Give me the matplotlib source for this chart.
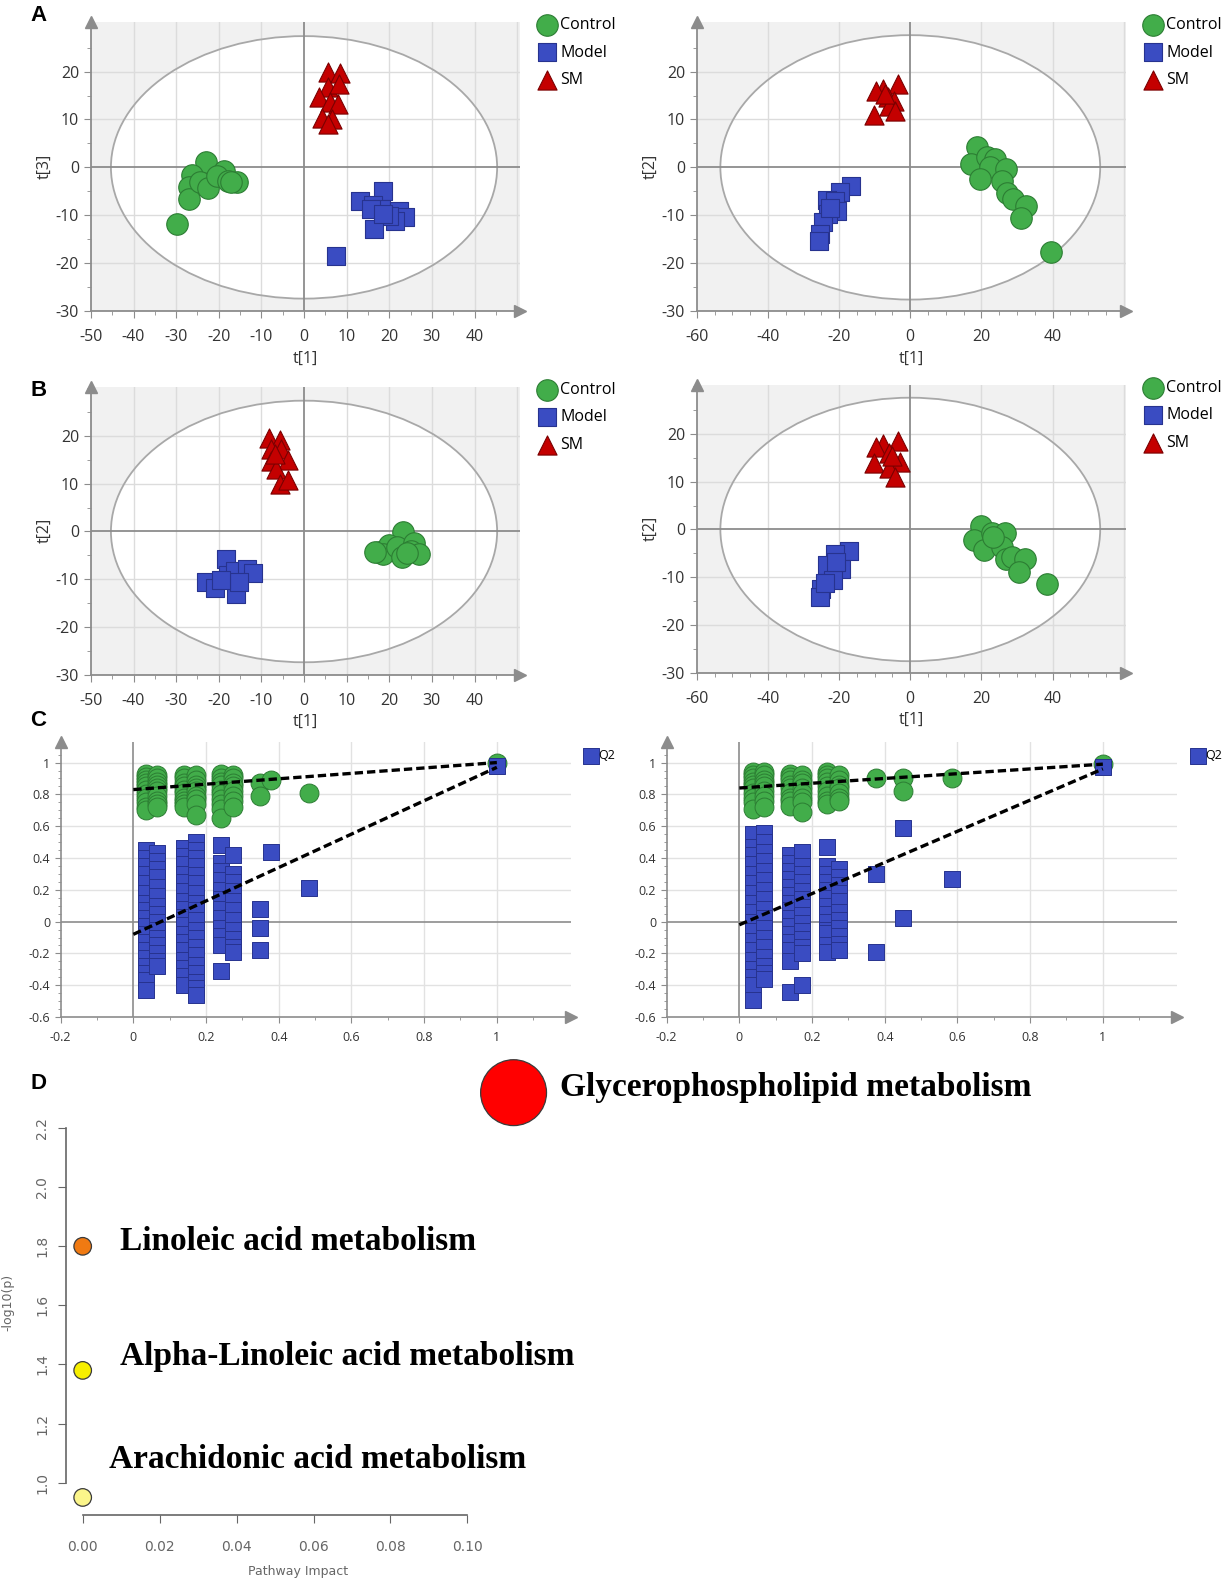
import matplotlib
matplotlib.use("Agg")
import matplotlib.pyplot as plt
from matplotlib.patches import Ellipse
from matplotlib.ticker import MultipleLocator, FuncFormatter

plt.rcParams["axes.unicode_minus"] = False

W, H = 1223, 1582
S = 1.01  # layout was measured on a slightly shrunken view of the picture

# ---- score plots (t[1], second component) ----
a1_control = [(-23, 1.2), (-26.2, -1.6), (-26.9, -4.2), (-27, -6.7), (-24.3, -3.1), (-22.5, -4.4),
              (-18.7, -0.7), (-20.4, -1.7), (-17.8, -2.8), (-15.7, -3.0), (-17.1, -3.0), (-29.7, -11.8)]
a1_model = [(18.5, -5), (13.1, -7), (16.2, -7.8), (18.1, -8.7), (15.7, -8.7), (22.2, -9.2),
            (23.6, -10.4), (21.3, -11.1), (19.9, -10.1), (16.4, -12.9), (7.6, -18.4), (18.5, -9.7)]
a1_sm = [(5.7, 20), (8.5, 19.8), (5.6, 16.8), (8.1, 17.4), (3.5, 14.6), (6, 13.6),
         (7.9, 13.2), (4.2, 10.4), (6.5, 10.1), (5.6, 9.0)]

a2_control = [(18.9, 4.2), (17.2, 0.6), (21.5, 2.1), (23.8, 1.7), (22.4, 0), (26.8, -0.3), (19.7, -2.4),
              (25.7, -2.8), (27.1, -5.4), (28.9, -6.6), (32.6, -8), (31.2, -10.6), (39.6, -17.7)]
a2_model = [(-16.8, -3.8), (-19.9, -5.2), (-23.4, -6.8), (-21.2, -7), (-20.6, -9.2), (-23.2, -9.7),
            (-24.5, -11.5), (-25.4, -13.9), (-25.6, -15.3), (-22.7, -8.5)]
a2_sm = [(-3.5, 17.3), (-7.6, 16.4), (-9.6, 15.9), (-6.3, 14.6), (-4.7, 13.9), (-6.1, 12.9),
         (-4.3, 11.7), (-10.2, 11.0), (-7.2, 15.3)]

b1_control = [(23.3, -0.2), (17.6, -4.2), (19.9, -2.9), (18.5, -4.7), (21.8, -3.2), (22.9, -5.3),
              (25.9, -2.5), (25.2, -4.1), (26.9, -4.8), (16.7, -4.4), (24.1, -4.6)]
b1_model = [(-18.3, -5.8), (-23, -10.5), (-20.8, -11.9), (-15.9, -13), (-17.8, -9.1), (-16.2, -8.3),
            (-13.4, -7.9), (-12, -8.8), (-15.3, -10.5), (-19.4, -10.2)]
b1_sm = [(-8.3, 19.6), (-5.6, 19.1), (-7.8, 17.2), (-5.3, 17.2), (-3.7, 14.9), (-7.8, 14.7),
         (-6.5, 13), (-5.6, 10), (-3.7, 10.7), (-6.9, 16.3)]

b2_control = [(20, 0.8), (18, -2.2), (22.9, -0.8), (26.6, -0.8), (20.8, -4.3), (25.7, -3.6),
              (26.9, -6.1), (28.5, -5.7), (32.2, -6.1), (30.7, -8.9), (38.5, -11.5), (23.3, -1.5)]
b2_model = [(-17.1, -4.5), (-21.2, -5.2), (-19.6, -8.2), (-23.4, -7.5), (-21.8, -10.6), (-25.1, -12.4),
            (-25.3, -14.1), (-20.9, -6.8), (-24, -11.3)]
b2_sm = [(-3.5, 18.6), (-7.6, 17.8), (-9.6, 17.2), (-6.1, 16), (-3, 14.2), (-10.2, 14),
         (-6.1, 12.9), (-4.3, 11), (-5.2, 15.3)]

group_names = ["Control", "Model", "SM"]

# ---- permutation tests: columns of R2 / Q2 values ----
cl_x = [0.036, 0.066, 0.139, 0.172, 0.242, 0.275, 0.349, 0.378, 0.482, 1.0]
cl_r2 = [[0.93, 0.91, 0.89, 0.87, 0.85, 0.83, 0.80, 0.78, 0.75, 0.72, 0.70],
         [0.92, 0.90, 0.88, 0.86, 0.84, 0.82, 0.79, 0.76, 0.74, 0.72],
         [0.92, 0.90, 0.87, 0.85, 0.83, 0.81, 0.78, 0.76, 0.74, 0.72],
         [0.92, 0.89, 0.86, 0.84, 0.82, 0.79, 0.77, 0.74, 0.67],
         [0.93, 0.90, 0.88, 0.86, 0.83, 0.80, 0.77, 0.74, 0.71, 0.65],
         [0.92, 0.90, 0.87, 0.85, 0.82, 0.79, 0.76, 0.72],
         [0.87, 0.79], [0.89], [0.81], [1.0]]
cl_q2 = [[0.45, 0.40, 0.35, 0.30, 0.24, 0.18, 0.12, 0.07, 0.02, -0.03, -0.08, -0.13, -0.18, -0.23, -0.28, -0.32, -0.37, -0.43],
         [0.43, 0.38, 0.33, 0.28, 0.22, 0.16, 0.10, 0.05, 0.00, -0.05, -0.10, -0.15, -0.20, -0.25, -0.28],
         [0.46, 0.41, 0.36, 0.30, 0.25, 0.19, 0.13, 0.08, 0.03, -0.02, -0.08, -0.13, -0.18, -0.24, -0.29, -0.34, -0.40],
         [0.50, 0.45, 0.40, 0.35, 0.29, 0.24, 0.18, 0.12, 0.07, 0.01, -0.05, -0.10, -0.16, -0.21, -0.27, -0.32, -0.38, -0.42, -0.46],
         [0.48, 0.37, 0.32, 0.26, 0.20, 0.14, 0.08, 0.02, -0.04, -0.09, -0.15, -0.31],
         [0.42, 0.30, 0.25, 0.19, 0.13, 0.07, 0.01, -0.05, -0.11, -0.16, -0.19],
         [0.08, -0.04, -0.18], [0.44], [0.21], [0.98]]
cl_r2_line = [0.83, 1.0]
cl_q2_line = [-0.08, 0.97]

cr_x = [0.038, 0.068, 0.139, 0.172, 0.241, 0.273, 0.375, 0.451, 0.584, 1.0]
cr_r2 = [[0.94, 0.92, 0.90, 0.88, 0.86, 0.84, 0.81, 0.78, 0.75, 0.71],
         [0.94, 0.92, 0.89, 0.87, 0.85, 0.82, 0.79, 0.76, 0.72],
         [0.93, 0.91, 0.89, 0.86, 0.84, 0.81, 0.78, 0.76, 0.73],
         [0.92, 0.89, 0.87, 0.84, 0.81, 0.78, 0.75, 0.69],
         [0.94, 0.92, 0.90, 0.88, 0.85, 0.82, 0.79, 0.76, 0.74],
         [0.92, 0.89, 0.86, 0.84, 0.81, 0.78, 0.76],
         [0.90], [0.90, 0.82], [0.90], [0.99]]
cr_q2 = [[0.55, 0.47, 0.42, 0.36, 0.30, 0.24, 0.18, 0.12, 0.06, 0.00, -0.06, -0.12, -0.18, -0.24, -0.30, -0.35, -0.40, -0.49],
         [0.56, 0.50, 0.44, 0.38, 0.32, 0.26, 0.20, 0.14, 0.08, 0.02, -0.04, -0.10, -0.16, -0.22, -0.28, -0.32, -0.36],
         [0.42, 0.37, 0.32, 0.27, 0.22, 0.17, 0.12, 0.07, 0.02, -0.03, -0.08, -0.13, -0.18, -0.25, -0.44],
         [0.44, 0.35, 0.30, 0.25, 0.19, 0.14, 0.09, 0.04, -0.01, -0.06, -0.11, -0.16, -0.20, -0.40],
         [0.47, 0.35, 0.30, 0.25, 0.20, 0.15, 0.10, 0.05, 0.00, -0.05, -0.07, -0.15, -0.19],
         [0.33, 0.28, 0.23, 0.18, 0.13, 0.06, 0.01, -0.04, -0.09, -0.14, -0.18],
         [0.30, -0.19], [0.59, 0.02], [0.27], [0.97]]
cr_r2_line = [0.84, 0.99]
cr_q2_line = [-0.02, 0.96]

# ---- pathway analysis ----
pathways = ["Glycerophospholipid metabolism", "Linoleic acid metabolism",
            "Alpha-Linoleic acid metabolism", "Arachidonic acid metabolism"]
impact = [0.112, 0.0, 0.0, 0.0]
logp = [2.32, 1.80, 1.38, 0.95]
path_colors = ["#ff0000", "#f07a12", "#f7ef00", "#fbf58a"]

GREEN, GREEN_E = "#42ad4a", "#2c7d33"
BLUE, BLUE_E = "#3a4cc2", "#27338f"
RED, RED_E = "#c40000", "#7a0000"
AX = "#8c8c8c"
UI_FONT = "Open Sans"


def add_px(fig, l, t, r, b):
    l, t, r, b = l * S, t * S, min(r * S, W), b * S
    return fig.add_axes([l / W, 1 - b / H, (r - l) / W, (b - t) / H])


def fig_xy(px, py):
    return px * S / W, 1 - py * S / H


def arrows(ax):
    ax.plot(0, 1, "^", ms=9, color=AX, transform=ax.transAxes, clip_on=False, zorder=6)
    ax.plot(1, 0, ">", ms=9, color=AX, transform=ax.transAxes, clip_on=False, zorder=6)


def score_plot(fig, box, groups, xlim, xmajor, rx, ry, ylab, legend_at):
    ax = add_px(fig, *box)
    ax.set_facecolor("#f1f1f1")
    ax.set_xlim(xlim)
    ax.set_ylim(-30, 30.3)
    ax.add_patch(Ellipse((0, 0), 2 * rx, 2 * ry, facecolor="white", edgecolor="none", zorder=0.5))
    x = xlim[0] + xmajor
    while x < xlim[1]:
        if abs(x) > 1e-9:
            ax.axvline(x, color="#dcdcdc", lw=1, zorder=1)
        x += xmajor
    for y in (-20, -10, 10, 20):
        ax.axhline(y, color="#dcdcdc", lw=1, zorder=1)
    ax.add_patch(Ellipse((0, 0), 2 * rx, 2 * ry, fill=False, edgecolor="#a8a8a8", lw=1.3, zorder=1.5))
    ax.axhline(0, color=AX, lw=1.3, zorder=1.6)
    ax.axvline(0, color=AX, lw=1.3, zorder=1.6)

    styles = [("o", GREEN, GREEN_E, 240), ("s", BLUE, BLUE_E, 175), ("^", RED, RED_E, 190)]
    handles = []
    for pts, (m, fc, ec, s) in zip(groups, styles):
        xs, ys = zip(*pts)
        handles.append(ax.scatter(xs, ys, marker=m, s=s, facecolor=fc, edgecolor=ec, lw=0.8, zorder=3))

    ax.set_xticks(range(int(xlim[0]), 41, xmajor))
    ax.set_yticks(range(-30, 21, 10))
    ax.xaxis.set_minor_locator(MultipleLocator(5))
    ax.yaxis.set_minor_locator(MultipleLocator(5))
    ax.tick_params(which="both", direction="out", color=AX, labelcolor="#333333", labelsize=11.5)
    ax.tick_params(which="major", length=5)
    ax.tick_params(which="minor", length=3)
    ax.tick_params(axis="x", pad=8)
    for lab in ax.get_xticklabels() + ax.get_yticklabels():
        lab.set_family(UI_FONT)
    for side in ("top", "right"):
        ax.spines[side].set_visible(False)
    for side in ("left", "bottom"):
        ax.spines[side].set_color(AX)
        ax.spines[side].set_linewidth(1.3)
    arrows(ax)
    ax.set_xlabel("t[1]", family=UI_FONT, fontsize=11.5, color="#333333", labelpad=4)
    ax.set_ylabel(ylab, family=UI_FONT, fontsize=11.5, color="#333333", labelpad=2)
    ax.legend(handles, group_names, loc="upper left", bbox_to_anchor=fig_xy(*legend_at),
              bbox_transform=fig.transFigure, frameon=False, handlelength=1.0, handletextpad=0.3,
              labelspacing=0.72, borderpad=0, borderaxespad=0, prop={"family": UI_FONT, "size": 11.5})
    return ax


def perm_plot(fig, box, xs, r2, q2, r2_line, q2_line, legend_at):
    ax = add_px(fig, *box)
    ax.set_xlim(-0.2, 1.203)
    ax.set_ylim(-0.6, 1.127)
    for gx in (0.2, 0.4, 0.6, 0.8, 1.0):
        ax.axvline(gx, color="#e2e2e2", lw=1, zorder=1)
    for gy in (-0.4, -0.2, 0.2, 0.4, 0.6, 0.8, 1.0):
        ax.axhline(gy, color="#e2e2e2", lw=1, zorder=1)
    ax.axhline(0, color=AX, lw=1.2, zorder=1.5)
    ax.axvline(0, color=AX, lw=1.2, zorder=1.5)
    for x, col in zip(xs, r2):
        ax.scatter([x] * len(col), col, marker="o", s=185, facecolor=GREEN, edgecolor=GREEN_E, lw=0.7, zorder=3)
    for x, col in zip(xs, q2):
        h = ax.scatter([x] * len(col), col, marker="s", s=125, facecolor=BLUE, edgecolor=BLUE_E, lw=0.7, zorder=3)
    ax.plot([0, 1], r2_line, color="black", lw=2.4, ls=(0, (2.5, 1.2)), zorder=4)
    ax.plot([0, 1], q2_line, color="black", lw=2.4, ls=(0, (2.5, 1.2)), zorder=4)

    ax.set_xticks([-0.2, 0, 0.2, 0.4, 0.6, 0.8, 1])
    ax.set_yticks([-0.6, -0.4, -0.2, 0, 0.2, 0.4, 0.6, 0.8, 1])
    fmt = FuncFormatter(lambda v, p: "%g" % round(v, 2))
    ax.xaxis.set_major_formatter(fmt)
    ax.yaxis.set_major_formatter(fmt)
    ax.xaxis.set_minor_locator(MultipleLocator(0.1))
    ax.yaxis.set_minor_locator(MultipleLocator(0.05))
    ax.tick_params(which="both", direction="out", color=AX, labelcolor="#333333", labelsize=9)
    ax.tick_params(which="major", length=4)
    ax.tick_params(which="minor", length=2.5)
    ax.tick_params(axis="x", pad=6)
    for lab in ax.get_xticklabels() + ax.get_yticklabels():
        lab.set_family(UI_FONT)
    for side in ("top", "right"):
        ax.spines[side].set_visible(False)
    for side in ("left", "bottom"):
        ax.spines[side].set_color(AX)
        ax.spines[side].set_linewidth(1.2)
    arrows(ax)
    ax.legend([h], ["Q2"], loc="upper left", bbox_to_anchor=fig_xy(*legend_at),
              bbox_transform=fig.transFigure, frameon=False, handlelength=0.8, handletextpad=0.2,
              borderpad=0, borderaxespad=0, prop={"family": UI_FONT, "size": 9})
    return ax


fig = plt.figure(figsize=(W / 100, H / 100), dpi=100)

score_plot(fig, (90, 22, 515, 308), [a1_control, a1_model, a1_sm], (-50, 50.7), 10, 45.3, 27.4, "t[3]", (534, 17))
score_plot(fig, (690, 22, 1115, 308), [a2_control, a2_model, a2_sm], (-60, 60.7), 20, 53.4, 27.6, "t[2]", (1134, 17))
score_plot(fig, (90, 383, 515, 668), [b1_control, b1_model, b1_sm], (-50, 50.7), 10, 45.3, 27.4, "t[2]", (534, 378))
score_plot(fig, (690, 381, 1115, 666), [b2_control, b2_model, b2_sm], (-60, 60.7), 20, 53.4, 27.6, "t[2]", (1134, 376))

perm_plot(fig, (60, 735, 565, 1007), cl_x, cl_r2, cl_q2, cl_r2_line, cl_q2_line, (580, 742))
perm_plot(fig, (660, 735, 1165, 1007), cr_x, cr_r2, cr_q2, cr_r2_line, cr_q2_line, (1181, 742))

# ---- panel D: pathway impact ----
ax = add_px(fig, 65, 1040, 1220, 1500)
ax.set_xlim(-0.00443, 0.2964)
ax.set_ylim(0.8906, 2.463)
sizes = [2250, 160, 160, 160]
ax.scatter(impact, logp, s=sizes, c=path_colors, edgecolor="#3a3a3a", lw=0.9, zorder=3, clip_on=False)
offsets = [(46, 5), (37, 5), (37, 14), (26, 38)]
for name, x, y, off in zip(pathways, impact, logp, offsets):
    ax.annotate(name, (x, y), xytext=off, textcoords="offset pixels", ha="left", va="center",
                family="Liberation Serif", weight="bold", fontsize=24)
for side in ("top", "right"):
    ax.spines[side].set_visible(False)
for side in ("left", "bottom"):
    ax.spines[side].set_color("#666666")
    ax.spines[side].set_linewidth(1.2)
ax.spines["left"].set_bounds(1.0, 2.2)
ax.spines["bottom"].set_bounds(0.0, 0.1)
ax.set_xticks([0, 0.02, 0.04, 0.06, 0.08, 0.10])
ax.set_yticks([1.0, 1.2, 1.4, 1.6, 1.8, 2.0, 2.2])
ax.xaxis.set_major_formatter(FuncFormatter(lambda v, p: "%.2f" % v))
ax.yaxis.set_major_formatter(FuncFormatter(lambda v, p: "%.1f" % v))
ax.tick_params(direction="out", length=6, color="#666666", labelcolor="#666666", labelsize=10, pad=6)
ax.tick_params(axis="x", pad=12)
for lab in ax.get_yticklabels():
    lab.set_rotation(90)
    lab.set_va("center")
ax.set_xlabel("Pathway Impact", fontsize=9, color="#666666")
ax.set_ylabel("-log10(p)", fontsize=9, color="#666666")
ax.xaxis.set_label_coords(0.2009, -0.108)
ax.yaxis.set_label_coords(-0.044, 0.457)

for letter, (px, py) in zip("ABCD", [(38, 15), (38, 387), (38, 713), (38, 1073)]):
    fig.text(*fig_xy(px, py), letter, fontsize=16, weight="bold", family="Liberation Sans",
             ha="center", va="center")

fig.savefig("out.png", dpi=100)
